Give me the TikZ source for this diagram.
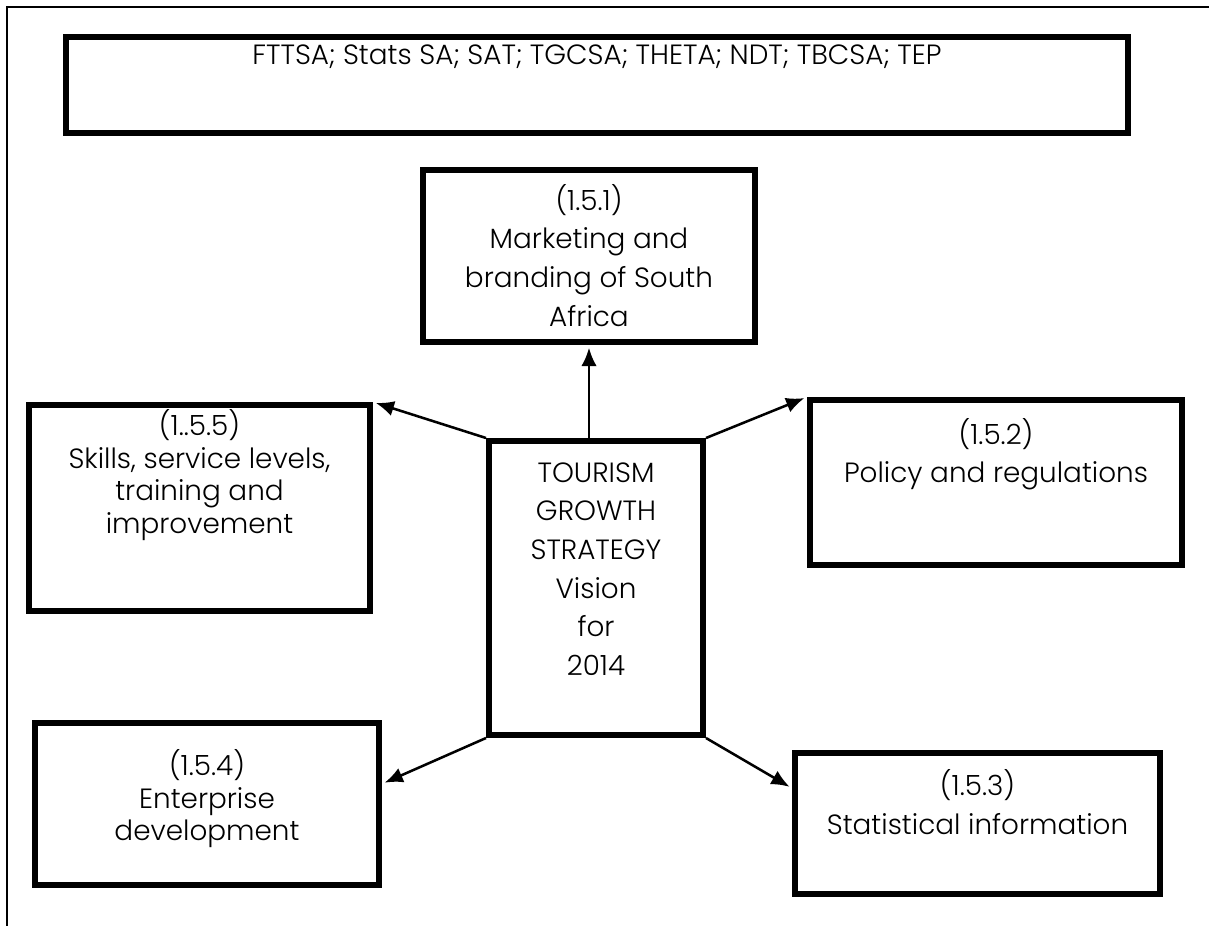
\documentclass[tikz,border=0pt]{standalone}
\usepackage{fontspec}
\setmainfont{Poppins Light}
\usetikzlibrary{arrows.meta, positioning, calc}
\tikzset{
  goal/.style={draw,line width=4.2pt,inner sep=0pt,align=center,font=\fontsize{19.8}{27.5}\selectfont},
  goal_tight/.style={goal,font=\fontsize{19.8}{23}\selectfont},
  banner/.style={goal,font=\fontsize{19.8}{24}\selectfont},
  link/.style={line width=1.8pt,-{Latex[length=13pt,width=11pt]},shorten >=2pt},
}
\begin{document}
\begin{tikzpicture}[x=0.025cm,y=-0.025cm]
	    \useasboundingbox (0,0) rectangle (1209,926);
	    \draw[line width=2pt] (7,926) -- (7,7) -- (1209,7);
	    \node[banner,minimum width=26.55cm,text height=0.69cm,text depth=1.71cm] (agencies) at (597,85) {FTTSA; Stats SA; SAT; TGCSA; THETA; NDT; TBCSA; TEP};
	    \node[goal,minimum width=5.35cm,text height=5.86cm,text depth=1.49cm] (centre) at (596,588) {TOURISM\\GROWTH\\STRATEGY\\Vision\\for\\2014};
	    \node[goal,minimum width=8.3cm,text height=3.9cm,text depth=0.4cm] (mkt) at (589,256) {(1.5.1)\\Marketing and\\branding of South\\Africa};
	    \node[goal,minimum width=9.3cm,text height=2.07cm,text depth=2.055cm] (policy) at (996,482.5) {(1.5.2)\\Policy and regulations};
	    \node[goal,minimum width=9.125cm,text height=2.04cm,text depth=1.485cm] (stat) at (977.5,823.5) {(1.5.3)\\Statistical information};
	    \node[goal_tight,minimum width=8.6cm,text height=2.94cm,text depth=1.11cm] (ent) at (207,804) {(1.5.4)\\Enterprise\\development};
	    \node[goal_tight,minimum width=8.525cm,text height=3.2cm,text depth=1.95cm] (skills) at (199.5,508) {(1..5.5)\\Skills, service levels,\\training and\\improvement};
	    \draw[link] (mkt.south |- centre.north) -- (mkt.south);
	    \draw[link] (centre.north west) -- (skills.north east);
	    \draw[link] (centre.north east) -- (policy.north west);
	    \draw[link] (centre.south west) -- ($(ent.north east)!.38!(ent.south east)$);
	    \draw[link] (centre.south east) -- ($(stat.north west)!.26!(stat.south west)$);
	\end{tikzpicture}
\end{document}
